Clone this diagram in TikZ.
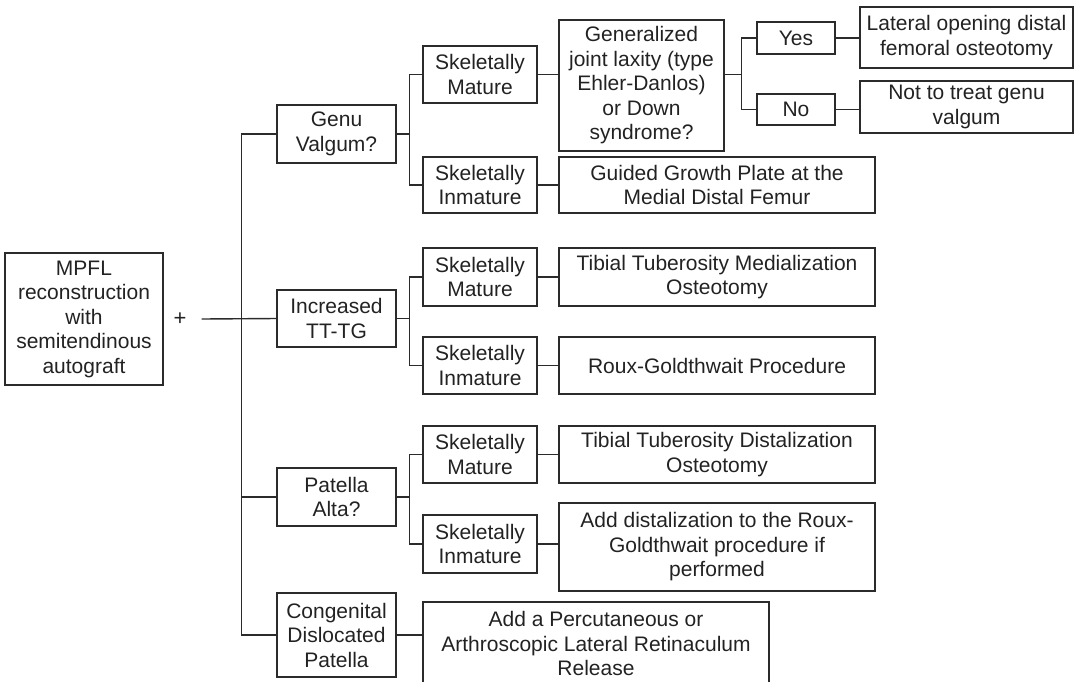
\documentclass[tikz,border=0pt]{standalone}
\usepackage{fontspec}
\setmainfont{Liberation Sans}
\definecolor{linec}{HTML}{2B2B2B}
\definecolor{textc}{HTML}{222222}
\tikzset{
  box/.style={draw=linec, line width=1.4pt, align=center, inner sep=0pt,
    font=\fontsize{21}{24.5}\selectfont, text=textc},
  conn/.style={draw=linec, line width=1.4pt},
}
\begin{document}
\begin{tikzpicture}[x=1pt,y=-1pt]
\useasboundingbox (0,0) rectangle (1084,681);
\clip (0,0) rectangle (1084,681);
% root
\node[box, minimum width=158pt, minimum height=132pt] (mpfl) at (84,319)
  {MPFL\\reconstruction\\with\\semitendinous\\autograft};
\node[font=\fontsize{22}{24.5}\selectfont, text=textc, inner ysep=0pt, inner xsep=15pt] (plus) at (180,319) {+};
% level 1
\node[box, minimum width=119pt, minimum height=58pt] (gv) at (336.5,134) {Genu\\Valgum?};
\node[box, minimum width=119pt, minimum height=57pt] (tt) at (336.5,318.5) {Increased\\TT-TG};
\node[box, minimum width=119pt, minimum height=58pt] (pa) at (336.5,497) {Patella\\Alta?};
\node[box, minimum width=119pt, minimum height=84pt] (cd) at (336.5,635) {Congenital\\Dislocated\\Patella};
% level 2
\node[box, minimum width=114pt, minimum height=57pt] (m1) at (480,74.5) {Skeletally\\Mature};
\node[box, minimum width=114pt, minimum height=56pt] (i1) at (480,185) {Skeletally\\Inmature};
\node[box, minimum width=114pt, minimum height=58pt] (m2) at (480,277) {Skeletally\\Mature};
\node[box, minimum width=114pt, minimum height=57pt] (i2) at (480,365.5) {Skeletally\\Inmature};
\node[box, minimum width=114pt, minimum height=57pt] (m3) at (480,454.5) {Skeletally\\Mature};
\node[box, minimum width=114pt, minimum height=58pt] (i3) at (480,544) {Skeletally\\Inmature};
% level 3
\node[box, minimum width=165pt, minimum height=131pt] (gen) at (641.5,85.5)
  {Generalized\\joint laxity (type\\Ehler-Danlos)\\or Down\\syndrome?};
\node[box, minimum width=316pt, minimum height=56pt] (gg) at (717,185) {Guided Growth Plate at the\\Medial Distal Femur};
\node[box, minimum width=316pt, minimum height=58pt] (tm) at (717,277) {Tibial Tuberosity Medialization\\Osteotomy};
\node[box, minimum width=316pt, minimum height=57pt] (rg) at (717,365.5) {Roux-Goldthwait Procedure};
\node[box, minimum width=316pt, minimum height=57pt] (td) at (717,454.5) {Tibial Tuberosity Distalization\\Osteotomy};
\node[box, minimum width=316pt, minimum height=88pt] (ad) at (717,547) {Add distalization to the Roux-\\Goldthwait procedure if\\performed};
\node[box, minimum width=346pt, minimum height=83pt] (pr) at (596,643.5) {Add a Percutaneous or\\Arthroscopic Lateral Retinaculum\\Release};
% level 4
\node[box, minimum width=78pt, minimum height=32pt] (yes) at (796,38) {Yes};
\node[box, minimum width=78pt, minimum height=31pt] (no) at (796,109.5) {No};
\node[box, minimum width=213pt, minimum height=61pt] (lat) at (966.5,37.5) {Lateral opening distal\\femoral osteotomy};
\node[box, minimum width=213pt, minimum height=52pt] (not) at (966.5,107) {Not to treat genu\\valgum};
% connectors
\draw[conn] (plus.east) -- (tt.west);
\draw[conn] (gv.west) -- ++(-35,0) |- (cd.west);
\draw[conn] (pa.west) -- ++(-35,0);
\draw[conn] (gv.east) -- ++(13,0) |- (m1.west);
\draw[conn] (gv.east) -- ++(13,0) |- (i1.west);
\draw[conn] (tt.east) -- ++(13,0) |- (m2.west);
\draw[conn] (tt.east) -- ++(13,0) |- (i2.west);
\draw[conn] (pa.east) -- ++(13,0) |- (m3.west);
\draw[conn] (pa.east) -- ++(13,0) |- (i3.west);
\draw[conn] (m1.east) -- (m1.east -| gen.west);
\draw[conn] (i1.east) -- (gg.west);
\draw[conn] (m2.east) -- (tm.west);
\draw[conn] (i2.east) -- (rg.west);
\draw[conn] (m3.east) -- (td.west);
\draw[conn] (i3.east) -- (i3.east -| ad.west);
\draw[conn] (cd.east) -- (cd.east -| pr.west);
\draw[conn] (gen.east |- m1.east) -- ++(17,0) |- (yes.west);
\draw[conn] (gen.east |- m1.east) -- ++(17,0) |- (no.west);
\draw[conn] (yes.east) -- (yes.east -| lat.west);
\draw[conn] (no.east) -- (no.east -| not.west);
\end{tikzpicture}
\end{document}
